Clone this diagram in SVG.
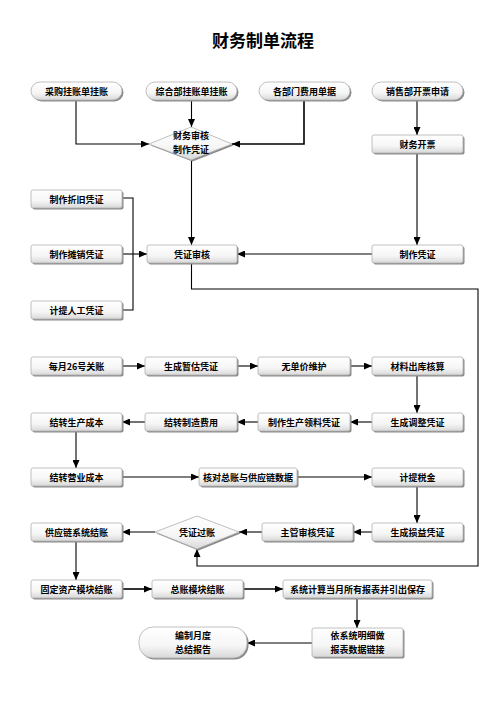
<svg xmlns="http://www.w3.org/2000/svg" width="496" height="702" viewBox="0 0 496 702">
<defs>
<linearGradient id="g" x1="0" y1="0" x2="0" y2="1"><stop offset="0" stop-color="#ffffff"/><stop offset="0.6" stop-color="#f6f6f6"/><stop offset="1" stop-color="#d8d8d8"/></linearGradient>
<marker id="a" markerUnits="userSpaceOnUse" markerWidth="8" markerHeight="7" refX="8" refY="3.5" orient="auto"><path d="M0,0 L8,3.5 L0,7 z" fill="#000"/></marker>
</defs>
<style>
.n{fill:url(#g);stroke:#b0b0b0;stroke-width:0.8}
.s{fill:#8a8a8a}
.t{font-family:"Noto Sans CJK SC","Noto Sans",sans-serif;font-size:9px;font-weight:bold;fill:#000;text-anchor:middle}
.c{fill:none;stroke:#000;stroke-width:1.1}
.c path{marker-end:url(#a)}
</style>
<rect width="496" height="702" fill="#fff"/>
<text x="263" y="47" style="font-family:'Noto Sans CJK SC',sans-serif;font-size:17px;font-weight:bold;text-anchor:middle">财务制单流程</text>

<g id="connectors" class="c">
<path d="M76,100 V144 H149"/>
<path d="M191.5,100 V127"/>
<path d="M304,100 V144 H232" stroke-width="1.6"/>
<path d="M417,100 V135"/>
<path d="M191.5,160 V245"/>
<path d="M417,153 V245"/>
<path d="M372,254 H237"/>
<polyline points="122,198 133,198 133,310 122,310"/>
<path d="M122,254 H147"/>
<path d="M191.5,264 V289 H478 V566 H197 V549"/>
<path d="M122,366 H145"/>
<path d="M237,366 H258"/>
<path d="M350,366 H372"/>
<path d="M417,375 V413"/>
<path d="M372,422 H350"/>
<path d="M258,422 H237"/>
<path d="M145,422 H122"/>
<path d="M76,431 V468"/>
<path d="M122,477 H199"/>
<path d="M297,477 H372"/>
<path d="M417,487 V523"/>
<path d="M372,532 H353"/>
<path d="M262,532 H239"/>
<path d="M155,532 H122"/>
<path d="M76,542 V580"/>
<path d="M122,589 H152" stroke-width="1.6"/>
<path d="M243,589 H283" stroke-width="1.6"/>
<path d="M357,598 V628"/>
<path d="M312,643 H247"/>
</g>

<g id="n1"><rect class="s" x="32.5" y="83.5" width="91" height="18" rx="9"/><rect class="n" x="31" y="82" width="91" height="18" rx="9"/><text class="t" x="76.5" y="94.5">采购挂账单挂账</text></g>
<g id="n2"><rect class="s" x="147.5" y="83.5" width="91" height="18" rx="9"/><rect class="n" x="146" y="82" width="91" height="18" rx="9"/><text class="t" x="191.5" y="94.5">综合部挂账单挂账</text></g>
<g id="n3"><rect class="s" x="260.5" y="83.5" width="91" height="18" rx="9"/><rect class="n" x="259" y="82" width="91" height="18" rx="9"/><text class="t" x="304.5" y="94.5">各部门费用单据</text></g>
<g id="n4"><rect class="s" x="373.5" y="83.5" width="91" height="18" rx="9"/><rect class="n" x="372" y="82" width="91" height="18" rx="9"/><text class="t" x="417.5" y="94.5">销售部开票申请</text></g>

<g id="d1"><polygon class="s" points="150.5,145.5 192.5,128.5 233.5,145.5 192.5,161.5"/><polygon class="n" points="149,144 191,127 232,144 191,160"/><text class="t" x="191" y="139">财务审核</text><text class="t" x="191" y="152.5">制作凭证</text></g>
<g id="n5"><rect class="s" x="373.5" y="136.5" width="91" height="18" rx="2"/><rect class="n" x="372" y="135" width="91" height="18" rx="2"/><text class="t" x="417.5" y="147.5">财务开票</text></g>

<g id="n6"><rect class="s" x="32.5" y="191.5" width="91" height="18" rx="2"/><rect class="n" x="31" y="190" width="91" height="18" rx="2"/><text class="t" x="76.5" y="202.5">制作折旧凭证</text></g>
<g id="n7"><rect class="s" x="32.5" y="246.5" width="91" height="18" rx="2"/><rect class="n" x="31" y="245" width="91" height="18" rx="2"/><text class="t" x="76.5" y="257.5">制作摊销凭证</text></g>
<g id="n8"><rect class="s" x="32.5" y="302.5" width="91" height="18" rx="2"/><rect class="n" x="31" y="301" width="91" height="18" rx="2"/><text class="t" x="76.5" y="313.5">计提人工凭证</text></g>
<g id="n9"><rect class="s" x="148.5" y="246.5" width="90" height="18" rx="2"/><rect class="n" x="147" y="245" width="90" height="18" rx="2"/><text class="t" x="192" y="257.5">凭证审核</text></g>
<g id="n10"><rect class="s" x="373.5" y="246.5" width="91" height="18" rx="2"/><rect class="n" x="372" y="245" width="91" height="18" rx="2"/><text class="t" x="417.5" y="257.5">制作凭证</text></g>

<g id="n11"><rect class="s" x="32.5" y="358.5" width="91" height="18" rx="2"/><rect class="n" x="31" y="357" width="91" height="18" rx="2"/><text class="t" x="76.5" y="369.5">每月26号关账</text></g>
<g id="n12"><rect class="s" x="146.5" y="358.5" width="92" height="18" rx="2"/><rect class="n" x="145" y="357" width="92" height="18" rx="2"/><text class="t" x="191" y="369.5">生成暂估凭证</text></g>
<g id="n13"><rect class="s" x="259.5" y="358.5" width="92" height="18" rx="2"/><rect class="n" x="258" y="357" width="92" height="18" rx="2"/><text class="t" x="304" y="369.5">无单价维护</text></g>
<g id="n14"><rect class="s" x="373.5" y="358.5" width="91" height="18" rx="2"/><rect class="n" x="372" y="357" width="91" height="18" rx="2"/><text class="t" x="417.5" y="369.5">材料出库核算</text></g>

<g id="n15"><rect class="s" x="32.5" y="414.5" width="91" height="18" rx="2"/><rect class="n" x="31" y="413" width="91" height="18" rx="2"/><text class="t" x="76.5" y="425.5">结转生产成本</text></g>
<g id="n16"><rect class="s" x="146.5" y="414.5" width="92" height="18" rx="2"/><rect class="n" x="145" y="413" width="92" height="18" rx="2"/><text class="t" x="191" y="425.5">结转制造费用</text></g>
<g id="n17"><rect class="s" x="259.5" y="414.5" width="92" height="18" rx="2"/><rect class="n" x="258" y="413" width="92" height="18" rx="2"/><text class="t" x="304" y="425.5">制作生产领料凭证</text></g>
<g id="n18"><rect class="s" x="373.5" y="414.5" width="91" height="18" rx="2"/><rect class="n" x="372" y="413" width="91" height="18" rx="2"/><text class="t" x="417.5" y="425.5">生成调整凭证</text></g>

<g id="n19"><rect class="s" x="32.5" y="469.5" width="91" height="18" rx="2"/><rect class="n" x="31" y="468" width="91" height="18" rx="2"/><text class="t" x="76.5" y="480.5">结转营业成本</text></g>
<g id="n20"><rect class="s" x="200.5" y="469.5" width="98" height="18" rx="2"/><rect class="n" x="199" y="468" width="98" height="18" rx="2"/><text class="t" x="248" y="480.5">核对总账与供应链数据</text></g>
<g id="n21"><rect class="s" x="373.5" y="469.5" width="91" height="18" rx="2"/><rect class="n" x="372" y="468" width="91" height="18" rx="2"/><text class="t" x="417.5" y="480.5">计提税金</text></g>

<g id="n22"><rect class="s" x="32.5" y="524.5" width="91" height="18" rx="2"/><rect class="n" x="31" y="523" width="91" height="18" rx="2"/><text class="t" x="76.5" y="535.5">供应链系统结账</text></g>
<g id="d2"><polygon class="s" points="156.5,533.5 198.5,517.5 240.5,533.5 198.5,550.5"/><polygon class="n" points="155,532 197,516 239,532 197,549"/><text class="t" x="197" y="535.5">凭证过账</text></g>
<g id="n23"><rect class="s" x="263.5" y="524.5" width="91" height="18" rx="2"/><rect class="n" x="262" y="523" width="91" height="18" rx="2"/><text class="t" x="307.5" y="535.5">主管审核凭证</text></g>
<g id="n24"><rect class="s" x="373.5" y="524.5" width="91" height="18" rx="2"/><rect class="n" x="372" y="523" width="91" height="18" rx="2"/><text class="t" x="417.5" y="535.5">生成损益凭证</text></g>

<g id="n25"><rect class="s" x="32.5" y="581.5" width="91" height="18" rx="2"/><rect class="n" x="31" y="580" width="91" height="18" rx="2"/><text class="t" x="76.5" y="592.5">固定资产模块结账</text></g>
<g id="n26"><rect class="s" x="153.5" y="581.5" width="91" height="18" rx="2"/><rect class="n" x="152" y="580" width="91" height="18" rx="2"/><text class="t" x="197.5" y="592.5">总账模块结账</text></g>
<g id="n27"><rect class="s" x="284.5" y="581.5" width="149" height="18" rx="2"/><rect class="n" x="283" y="580" width="149" height="18" rx="2"/><text class="t" x="357.5" y="592.5">系统计算当月所有报表并引出保存</text></g>

<g id="n28"><rect class="s" x="313.5" y="629.5" width="91" height="29" rx="2"/><rect class="n" x="312" y="628" width="91" height="29" rx="2"/><text class="t" x="357.5" y="639">依系统明细做</text><text class="t" x="357.5" y="652.5">报表数据链接</text></g>
<g id="n29"><rect class="s" x="140.5" y="628.5" width="108" height="31" rx="14"/><rect class="n" x="139" y="627" width="108" height="31" rx="14"/><text class="t" x="193" y="639">编制月度</text><text class="t" x="193" y="652.5">总结报告</text></g>
</svg>
